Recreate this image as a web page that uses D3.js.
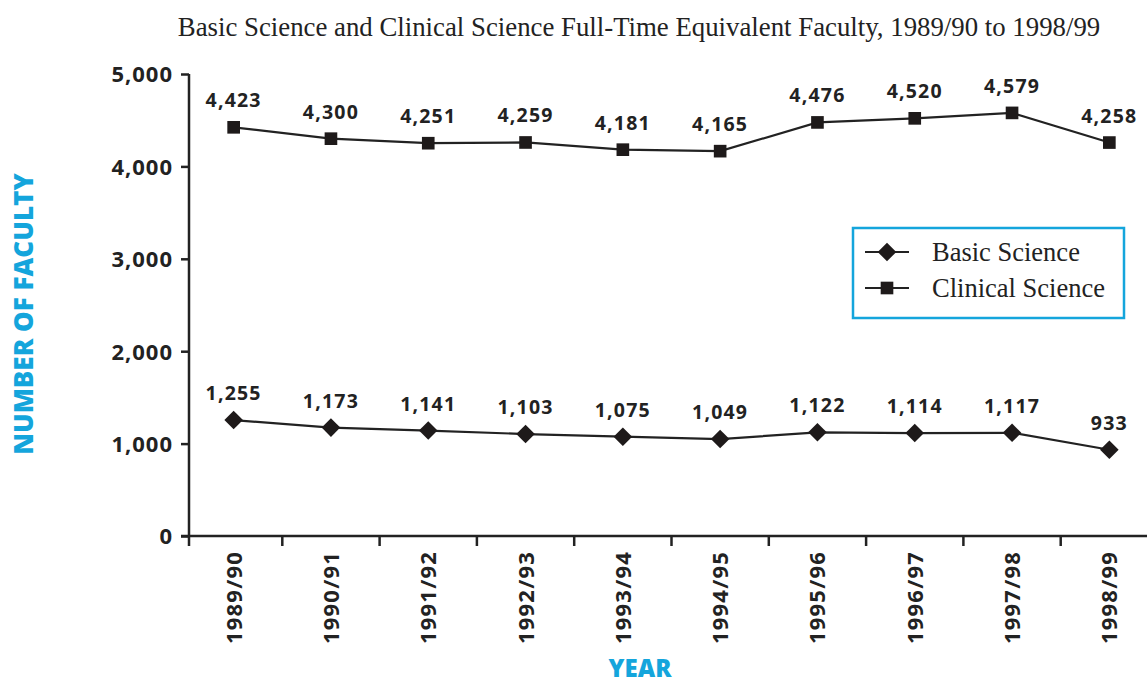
<!DOCTYPE html>
<html>
<head>
<meta charset="utf-8">
<script src="https://cdn.jsdelivr.net/npm/d3@7"></script>
<style>
  body { margin: 0; background: #fff; }
  svg { display: block; }
</style>
</head>
<body>
<div id="chart"></div>
<script>
const years = ['1989/90', '1990/91', '1991/92', '1992/93', '1993/94', '1994/95', '1995/96', '1996/97', '1997/98', '1998/99'];
const basicScience = [1255, 1173, 1141, 1103, 1075, 1049, 1122, 1114, 1117, 933];
const clinicalScience = [4423, 4300, 4251, 4259, 4181, 4165, 4476, 4520, 4579, 4258];
const yTicks = [0, 1000, 2000, 3000, 4000, 5000];

const width = 1147, height = 683;
const cyan = '#14a5dc';
const bold = '"Open Sans", Lato, sans-serif';
const serif = '"Liberation Serif", "DejaVu Serif", serif';

const svg = d3.select('#chart').append('svg')
    .attr('width', width).attr('height', height);

const x = d3.scaleBand().domain(years).range([185, 1158]);
const y = d3.scaleLinear().domain([0, 5000]).range([536, 74]);
const cx = d => x(d) + x.bandwidth() / 2;

// title
svg.append('text')
    .attr('x', 639).attr('y', 36)
    .attr('text-anchor', 'middle')
    .style('font-family', serif).style('font-size', '26.8px').attr('fill', '#222')
    .text('Basic Science and Clinical Science Full-Time Equivalent Faculty, 1989/90 to 1998/99');

// y axis
const yAxis = svg.append('g')
    .attr('transform', 'translate(189,0)')
    .call(d3.axisLeft(y).tickValues(yTicks).tickSize(8).tickSizeOuter(0).tickFormat(d3.format(',')));
yAxis.select('.domain').remove();
yAxis.selectAll('.tick line').attr('stroke', '#222').attr('stroke-width', 2.5);
yAxis.selectAll('.tick text')
    .attr('x', -16).attr('dy', '0.36em')
    .style('font-family', bold).style('font-weight', 'bold').style('font-size', '22px')
    .style('letter-spacing', '1px').attr('fill', '#222');

svg.append('line')
    .attr('x1', 189).attr('x2', 189).attr('y1', 74).attr('y2', 546)
    .attr('stroke', '#222').attr('stroke-width', 2.5);

// x axis
svg.append('line')
    .attr('x1', 181).attr('x2', width).attr('y1', 536).attr('y2', 536)
    .attr('stroke', '#222').attr('stroke-width', 2.5);

svg.append('g').selectAll('line')
    .data(years.slice(1))
    .join('line')
    .attr('x1', d => x(d)).attr('x2', d => x(d))
    .attr('y1', 536).attr('y2', 546)
    .attr('stroke', '#222').attr('stroke-width', 2.5);

svg.append('g').selectAll('text')
    .data(years)
    .join('text')
    .attr('transform', d => 'translate(' + (cx(d) + 8) + ',551) rotate(-90)')
    .attr('text-anchor', 'end')
    .style('font-family', bold).style('font-weight', 'bold').style('font-size', '22px')
    .style('letter-spacing', '1.2px').attr('fill', '#222')
    .text(d => d);

// axis titles
svg.append('text')
    .attr('transform', 'translate(33,314) rotate(-90)')
    .attr('text-anchor', 'middle')
    .style('font-family', bold).style('font-weight', 800).style('font-size', '26px').attr('fill', cyan)
    .text('NUMBER OF FACULTY');

svg.append('text')
    .attr('x', 640).attr('y', 677)
    .attr('text-anchor', 'middle')
    .style('font-family', bold).style('font-weight', 800).style('font-size', '24px').attr('fill', cyan)
    .text('YEAR');

const line = d3.line().x(d => cx(d.year)).y(d => y(d.value));

const series = [
    { name: 'Basic Science', values: basicScience, symbol: d3.symbolDiamond2, size: 220 },
    { name: 'Clinical Science', values: clinicalScience, symbol: d3.symbolSquare, size: 160 }
];

series.forEach(s => {
    const pts = years.map((yr, i) => ({ year: yr, value: s.values[i] }));
    svg.append('path')
        .attr('d', line(pts))
        .attr('fill', 'none').attr('stroke', '#222').attr('stroke-width', 2.2);
    svg.append('g').selectAll('path')
        .data(pts)
        .join('path')
        .attr('transform', d => 'translate(' + cx(d.year) + ',' + y(d.value) + ')')
        .attr('d', d3.symbol().type(s.symbol).size(s.size))
        .attr('fill', '#1e1a1a');
    svg.append('g').selectAll('text')
        .data(pts)
        .join('text')
        .attr('x', d => cx(d.year)).attr('y', d => y(d.value) - 20)
        .attr('text-anchor', 'middle')
        .style('font-family', bold).style('font-weight', 'bold').style('font-size', '19.5px')
        .style('letter-spacing', '1.2px').attr('fill', '#222')
        .text(d => d3.format(',')(d.value));
});

// legend
const legend = svg.append('g');
legend.append('rect')
    .attr('x', 853).attr('y', 228).attr('width', 271).attr('height', 90)
    .attr('fill', '#fff').attr('stroke', cyan).attr('stroke-width', 2.5);

series.forEach((s, i) => {
    const ly = 252 + i * 36;
    legend.append('line')
        .attr('x1', 865).attr('x2', 909).attr('y1', ly).attr('y2', ly)
        .attr('stroke', '#222').attr('stroke-width', 2.2);
    legend.append('path')
        .attr('transform', 'translate(887,' + ly + ')')
        .attr('d', d3.symbol().type(s.symbol).size(s.size))
        .attr('fill', '#1e1a1a');
    legend.append('text')
        .attr('x', 932).attr('y', ly).attr('dy', '0.33em')
        .style('font-family', serif).style('font-size', '26.5px').attr('fill', '#222')
        .text(s.name);
});
</script>
</body>
</html>
